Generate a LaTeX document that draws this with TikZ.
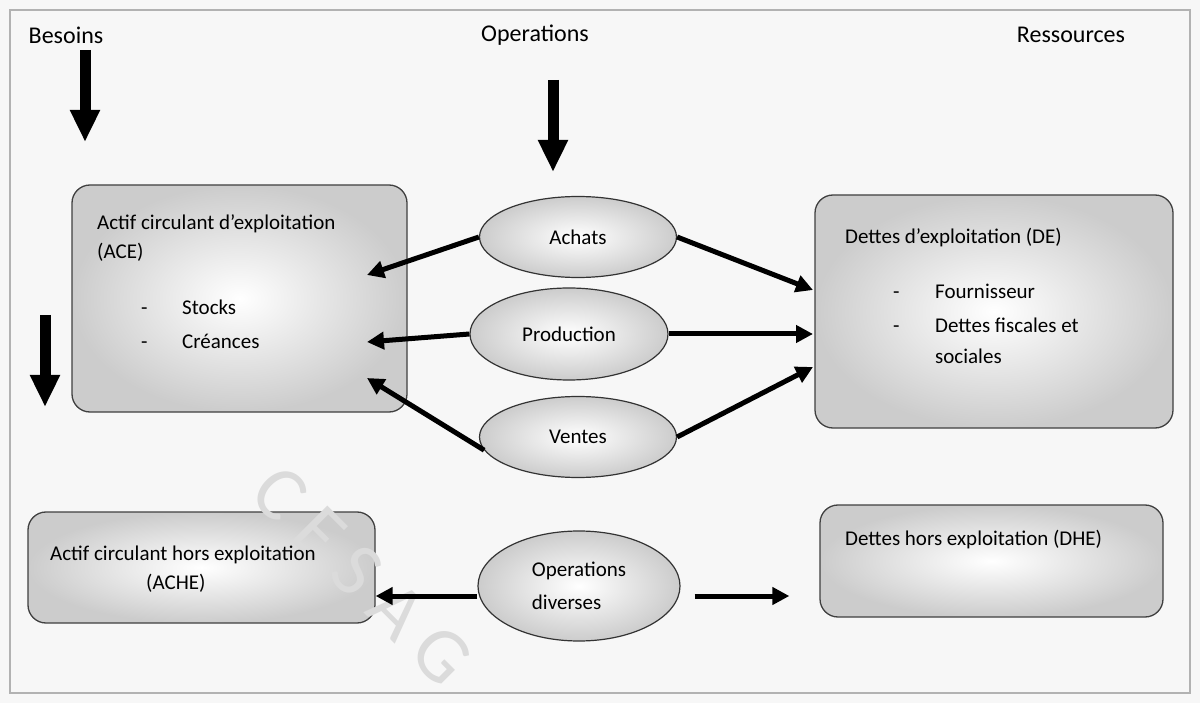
\documentclass[tikz,border=0pt]{standalone}
\usepackage{fontspec}
\setmainfont{Carlito}
\usepackage{tikz}
\usetikzlibrary{arrows.meta,shapes.geometric}

\begin{document}
\begin{tikzpicture}[x=1pt,y=-1pt,
    box/.style={draw=black!75, line width=1.3pt, rounded corners=18pt, inner color=white, outer color=gray!40},
    oval/.style={ellipse, draw=black!80, line width=1.2pt, inner color=white, outer color=gray!40, align=left, font=\fontsize{21}{33}\selectfont},
    conn/.style={line width=5pt, -{Triangle[width=17pt,length=17pt]}},
    bigarrow/.style={line width=11pt, -{Triangle[width=28pt,length=32pt]}},
    txt/.style={anchor=base west, inner sep=0pt, font=\fontsize{21}{26}\selectfont},
    head/.style={inner sep=0pt, font=\fontsize{24}{28}\selectfont}]
    \fill[gray!6] (0,0) rectangle (1200,703);
    \draw[gray!60, line width=1.5pt] (10,10) rectangle (1190,693);

    % column titles
    \node[head] (besoins) at (66,35) {Besoins};
    \node[head] (operations) at (535,35) {Operations};
    \node[head] (ressources) at (1071,35) {Ressources};

    % boxes
    \node[box, minimum width=335pt, minimum height=227pt] (ace) at (239.5,298.5) {};
    \node[box, minimum width=358pt, minimum height=233pt] (de) at (994,311.5) {};
    \node[box, minimum width=347pt, minimum height=111pt] (ache) at (201.5,567.5) {};
    \node[box, minimum width=343pt, minimum height=112pt] (dhe) at (991.5,561) {};

    % watermark
    \node[rotate=-45, text=gray!28, font=\fontsize{78}{78}\selectfont] (mark) at (362,576) {C\hspace{16pt}E\hspace{16pt}S\hspace{16pt}A\hspace{16pt}G};

    \node[txt] (aceT) at (97,230) {Actif circulant d’exploitation};
    \node[txt] (aceS) at (97,259) {(ACE)};
    \node[txt] (aceD1) at (141,315) {-};
    \node[txt] (aceI1) at (182,315) {Stocks};
    \node[txt] (aceD2) at (141,349) {-};
    \node[txt] (aceI2) at (182,349) {Créances};

    \node[txt] (deT) at (845,244) {Dettes d’exploitation (DE)};
    \node[txt] (deD1) at (893,299) {-};
    \node[txt] (deI1) at (935,299) {Fournisseur};
    \node[txt] (deD2) at (893,333) {-};
    \node[txt] (deI2) at (935,333) {Dettes fiscales et};
    \node[txt] (deI3) at (935,364) {sociales};

    \node[txt] (acheT) at (50,560) {Actif circulant hors exploitation};
    \node[txt] (acheS) at (146,589) {(ACHE)};
    \node[txt] (dheT) at (845,545) {Dettes hors exploitation (DHE)};

    % operations
    \node[oval, minimum width=197pt, minimum height=81pt] (achats) at (578,237) {Achats};
    \node[oval, minimum width=198pt, minimum height=92pt] (prod) at (569,334) {Production};
    \node[oval, minimum width=197pt, minimum height=81pt] (ventes) at (578,437) {Ventes};
    \node[oval, minimum width=202pt, minimum height=110pt] (ops) at (579,586) {Operations\\diverses};

    % arrow ends inside the boxes
    \coordinate (ceA) at (367,275);
    \coordinate (ceB) at (367,342);
    \coordinate (ceC) at (367,378);
    \coordinate (deA) at (813,290);
    \coordinate (deB) at (813,334);
    \coordinate (deC) at (813,367);

    \draw[conn] (achats.west) -- (ceA);
    \draw[conn] (achats.east) -- (deA);
    \draw[conn] (prod.west) -- (ceB);
    \draw[conn] (prod.east) -- (deB);
    \draw[conn] (ventes.188) -- (ceC);
    \draw[conn] (ventes.east) -- (deC);
    \draw[conn] ([yshift=-10pt]ops.west) -- ([yshift=-10pt]ops.west -| ache.east);
    \draw[conn, shorten <=14pt, shorten >=30pt] ([yshift=-10pt]ops.east) -- ([yshift=-10pt]ops.east -| dhe.west);

    % vertical arrows
    \coordinate (b1) at (85,50);
    \coordinate (b2) at (85,142);
    \coordinate (o1) at (553,80);
    \coordinate (o2) at (553,172);
    \coordinate (l1) at (45,315);
    \coordinate (l2) at (45,407);
    \draw[bigarrow] (b1) -- (b2);
    \draw[bigarrow] (o1) -- (o2);
    \draw[bigarrow] (l1) -- (l2);
\end{tikzpicture}
\end{document}
